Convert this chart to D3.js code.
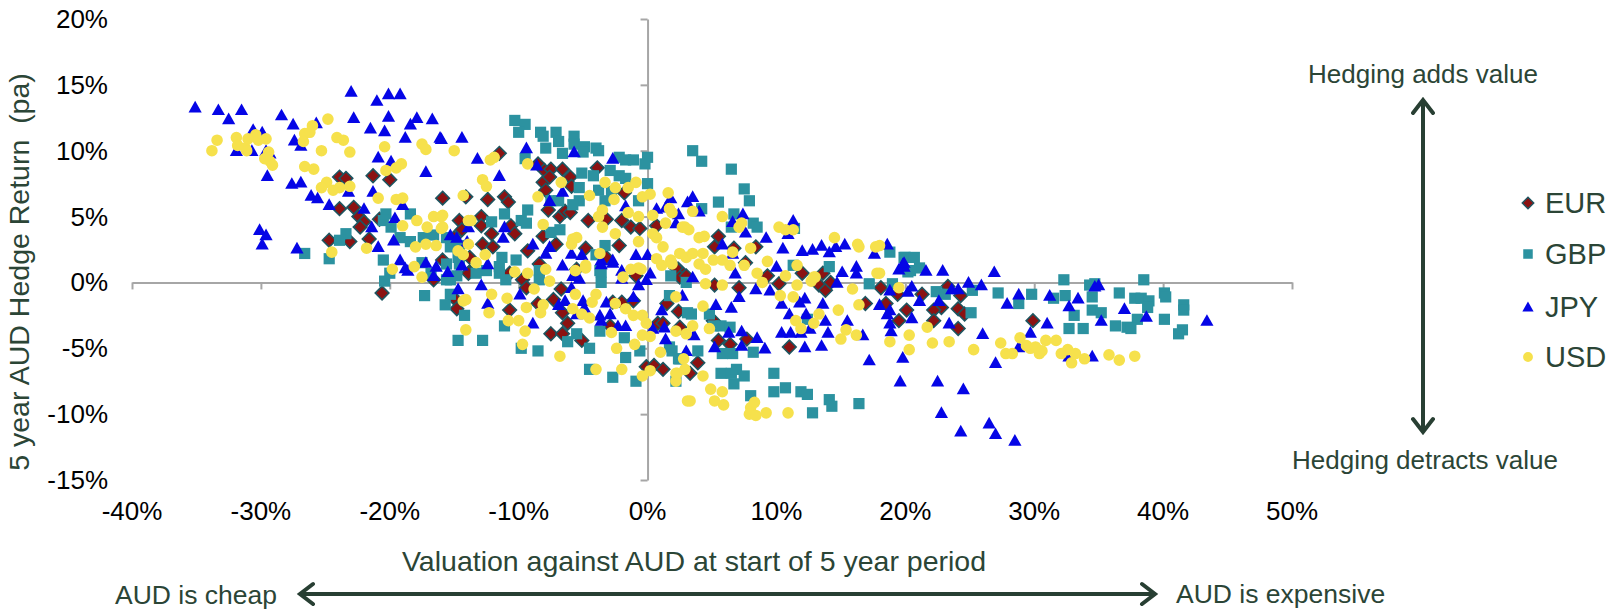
<!DOCTYPE html>
<html><head><meta charset="utf-8">
<script src="https://cdn.jsdelivr.net/npm/d3@7/dist/d3.min.js"></script>
<style>
html,body{margin:0;padding:0;background:#fff;}
svg{display:block;font-family:"Liberation Sans",Arial,sans-serif;}
</style></head>
<body>
<svg id="chart" width="1620" height="613"></svg>
<script>
// ---- data (percent) ----
const seriesNames = ["EUR","GBP","JPY","USD"];
const xTicks = [-40,-30,-20,-10,0,10,20,30,40,50];
const yTicks = [-15,-10,-5,0,5,10,15,20];

const eur = [[-23.9,8.0],[-23.4,7.9],[-21.3,8.1],[-20.0,7.8],[-15.9,6.4],[-23.9,5.6],[-22.8,5.7],[-22.4,5.0],[-22.0,4.6],[-22.3,4.2],[-24.7,3.2],[-23.1,3.1],[-21.6,3.3],[-20.8,4.8],[-14.6,4.7],[-14.4,4.0],[-13.8,0.8],[-15.9,1.7],[-20.6,-0.8],[-16.6,0.2],[-15.0,-1.2],[-14.8,-2.0],[-13.9,0.7],[-11.5,9.8],[-8.5,9.0],[-8.0,8.5],[-7.5,8.6],[-6.6,8.6],[-6.0,8.0],[-8.1,7.6],[-7.6,8.0],[-7.9,7.0],[-5.9,7.3],[-3.9,8.7],[-1.8,6.8],[-14.1,6.5],[-12.4,6.3],[-11.1,6.5],[-10.8,6.1],[-7.7,5.5],[-6.8,5.0],[-6.4,5.4],[-6.0,5.3],[-4.6,4.7],[-3.2,4.8],[-2.0,4.7],[-1.3,4.2],[-0.6,4.1],[0.7,4.3],[-12.9,5.0],[-12.9,4.3],[-12.1,3.7],[-12.8,2.9],[-12.0,2.7],[-10.6,4.3],[-10.3,3.7],[-9.3,2.4],[-8.1,3.5],[-7.1,2.9],[-4.8,2.6],[-2.2,2.8],[-3.2,1.9],[2.4,1.0],[2.5,0.4],[-15.0,3.4],[-13.8,1.9],[-10.7,0.7],[-8.4,1.4],[-10.7,-2.1],[-9.7,0.2],[-9.4,-0.4],[-8.5,-1.6],[-7.3,-1.3],[-6.7,-0.5],[-6.6,-2.3],[-6.2,-3.1],[-7.5,-3.9],[-6.6,-3.9],[-5.1,-4.4],[-5.5,1.0],[-2.9,-3.3],[-2.7,-1.5],[-2.0,-1.5],[-1.1,-1.4],[0.8,-3.1],[1.5,-1.6],[2.4,-2.2],[-0.1,-6.4],[0.5,-6.3],[1.2,-6.6],[2.2,1.1],[-0.9,0.5],[3.0,0.5],[5.5,3.5],[5.2,2.7],[6.7,2.6],[8.4,2.7],[7.6,1.5],[9.3,0.5],[12.0,0.7],[13.6,0.7],[5.2,-0.2],[7.1,-0.4],[10.2,-0.1],[13.3,-0.2],[13.8,-0.6],[14.2,0.0],[16.9,-1.6],[18.1,-0.4],[18.5,-1.6],[19.4,-0.9],[19.5,-2.9],[20.1,-2.1],[1.2,-3.1],[2.5,-3.4],[3.9,-6.1],[3.3,-6.9],[5.5,-4.4],[6.4,-4.7],[7.7,-4.3],[11.0,-4.9],[5.1,-2.9],[21.3,-0.9],[23.3,-0.3],[24.3,-1.0],[22.8,-1.9],[24.1,-2.0],[22.2,-2.1],[22.2,-2.9],[24.1,-3.5],[24.6,-2.4],[29.9,-2.9]];

const gbp = [[-10.3,12.3],[-9.5,12.0],[-10.0,11.4],[-8.3,11.4],[-8.1,11.1],[-7.1,11.4],[-6.9,10.7],[-7.9,10.2],[-6.6,9.8],[-5.7,11.1],[-5.7,10.5],[-4.9,10.3],[-5.0,9.9],[-4.0,10.2],[-3.8,10.0],[-2.2,9.5],[-1.7,9.3],[-1.1,9.3],[0.0,9.5],[-0.2,9.0],[-9.5,9.4],[-5.1,8.3],[-4.2,8.1],[-2.9,8.5],[-2.2,8.1],[-1.7,7.9],[0.0,7.5],[-0.7,6.2],[-5.3,7.2],[-3.8,7.0],[-2.8,6.9],[-3.3,6.2],[-5.3,6.2],[-5.8,5.9],[-6.9,6.2],[-7.5,6.2],[-9.3,5.5],[-9.8,4.7],[-9.4,4.5],[-11.1,5.2],[-12.1,4.6],[-7.5,3.8],[-6.8,4.0],[-3.3,2.8],[-4.0,2.1],[-3.7,0.9],[-10.2,1.7],[-11.3,1.9],[-11.5,1.2],[-12.5,0.9],[-13.3,0.7],[-15.3,2.7],[-14.7,1.9],[-15.6,1.4],[1.8,0.5],[-18.4,5.2],[-20.3,5.2],[-20.5,4.7],[-19.9,4.2],[-19.2,3.4],[-18.4,3.1],[-17.4,3.4],[-16.6,3.6],[-15.6,3.4],[-14.6,2.8],[-14.6,1.4],[-14.8,0.5],[-16.8,0.7],[-17.5,1.5],[-20.5,1.7],[-20.0,0.7],[-23.4,3.7],[-23.9,3.2],[-24.7,1.8],[-26.6,2.2],[-20.4,0.1],[-17.3,-1.0],[-15.7,-1.7],[-14.2,-2.5],[-14.7,-4.4],[-15.3,0.2],[-12.8,-4.4],[-11.1,-3.3],[-9.8,-5.0],[-8.5,-5.2],[-11.5,0.7],[-11.0,0.2],[-8.4,0.9],[-8.4,0.2],[-3.6,0.8],[-3.6,0.0],[-3.7,-3.7],[-5.5,-3.9],[-6.2,-4.5],[-4.5,-5.0],[-4.5,-6.6],[-2.7,-7.2],[-1.8,-4.2],[-1.7,-5.7],[-0.9,-7.5],[-0.6,-5.2],[1.9,-5.2],[2.2,-7.5],[2.5,-5.8],[3.1,-2.3],[3.0,0.0],[1.7,-1.0],[-15.3,-0.9],[-15.6,0.2],[3.5,10.0],[4.2,9.2],[6.5,8.6],[7.5,7.1],[5.5,6.1],[7.9,6.2],[4.2,5.6],[6.7,5.2],[8.2,4.5],[8.5,4.2],[6.5,4.2],[11.4,4.1],[14.1,1.2],[18.8,2.3],[19.9,1.9],[11.3,1.3],[17.2,-0.1],[19.0,-0.1],[20.2,0.8],[3.4,-2.4],[4.8,-2.4],[5.1,-3.3],[5.7,-3.3],[6.4,-3.4],[12.4,-2.8],[1.7,-4.9],[2.4,-5.8],[3.9,-5.2],[5.8,-5.4],[6.6,-5.4],[8.2,-5.3],[5.7,-6.9],[6.5,-6.9],[6.9,-6.6],[7.5,-7.1],[6.7,-7.7],[9.8,-6.9],[9.8,-8.3],[10.7,-8.0],[8.0,-8.6],[11.9,-8.3],[12.4,-8.5],[14.1,-8.9],[14.3,-9.4],[12.8,-9.9],[16.4,-9.2],[20.0,1.9],[20.7,1.9],[21.1,1.1],[20.4,0.9],[22.4,-0.7],[23.1,-0.9],[25.2,-0.6],[27.2,-0.8],[29.8,-0.9],[32.3,0.2],[31.5,-1.2],[32.4,-1.0],[34.3,-0.2],[34.7,-0.1],[34.5,-1.1],[36.6,-0.8],[28.8,-1.6],[25.1,-2.3],[33.1,-2.5],[32.7,-3.5],[33.8,-3.5],[34.5,-2.1],[35.2,-2.3],[36.3,-3.3],[37.2,-3.4],[38.5,0.2],[37.8,-1.2],[38.3,-1.2],[38.9,-1.4],[38.8,-1.9],[40.1,-0.8],[40.2,-1.1],[41.6,-1.7],[41.6,-2.1],[38.0,-2.8],[40.1,-2.8],[37.5,-3.5],[41.5,-3.6],[41.2,-3.9]];

const jpy = [[-35.1,13.3],[-33.3,13.1],[-32.5,12.4],[-31.5,13.1],[-30.6,11.6],[-29.9,11.4],[-31.9,10.0],[-30.7,10.0],[-29.6,10.0],[-29.3,9.8],[-29.5,8.1],[-28.4,12.7],[-27.5,12.0],[-27.4,10.8],[-26.9,10.4],[-25.7,12.1],[-23.0,14.5],[-21.0,13.8],[-20.1,14.3],[-19.2,14.3],[-22.8,12.5],[-21.5,11.7],[-20.4,11.5],[-20.1,12.6],[-18.8,11.0],[-18.4,12.0],[-17.9,12.5],[-16.7,12.4],[-16.1,11.0],[-14.4,11.0],[-17.2,8.4],[-20.9,9.5],[-19.9,9.2],[-27.6,7.5],[-26.9,7.6],[-26.1,6.6],[-25.6,6.4],[-24.7,5.9],[-23.2,6.9],[-21.3,6.9],[-22.0,5.6],[-21.4,4.2],[-19.6,4.9],[-19.0,5.9],[-30.1,4.0],[-29.6,3.6],[-29.9,2.9],[-27.2,2.6],[-20.9,2.7],[-19.7,3.2],[-19.2,1.7],[-15.3,3.6],[-14.8,3.4],[-14.0,3.1],[-17.2,1.5],[-16.4,1.2],[-15.5,0.8],[-18.6,0.9],[-18.8,1.1],[-16.6,0.5],[-16.0,10.9],[-13.2,9.4],[-11.5,8.1],[-9.4,10.2],[-8.6,8.9],[-5.7,9.9],[-2.7,9.4],[-7.6,6.2],[-6.6,6.9],[-1.7,5.8],[0.7,5.6],[1.8,6.4],[2.4,5.2],[3.1,6.1],[-11.1,4.2],[-11.2,3.4],[-13.9,4.2],[-8.9,2.9],[-7.9,2.2],[-7.6,2.7],[-5.9,2.2],[-5.1,2.1],[-2.7,1.7],[-0.9,2.1],[0.0,2.1],[-12.4,1.4],[-14.4,1.3],[-6.6,1.3],[-3.6,1.7],[-2.0,0.9],[0.2,0.7],[-14.7,-0.5],[-12.9,-0.2],[-12.4,-1.6],[-9.9,-0.9],[-8.9,-3.1],[-5.8,0.5],[-5.3,0.3],[-5.9,-0.4],[-6.4,-1.4],[-6.9,-1.7],[-5.0,-1.4],[-4.9,-1.9],[-5.5,-2.4],[-3.7,-2.5],[-3.6,-2.9],[-3.2,-1.5],[-2.9,-2.4],[-2.3,-3.3],[-1.7,-3.3],[-2.0,0.3],[-1.1,-1.1],[-0.7,-0.2],[-0.1,0.2],[1.1,-2.1],[1.3,-3.4],[1.4,-4.3],[2.7,-1.0],[3.0,-5.2],[0.4,-3.5],[-3.6,1.4],[-2.7,1.5],[3.5,6.5],[1.4,5.7],[4.0,5.4],[2.2,4.5],[7.4,5.2],[7.6,3.8],[6.6,4.6],[9.2,3.4],[10.5,2.6],[11.3,4.7],[10.9,3.7],[12.0,2.4],[12.8,2.5],[13.5,2.8],[14.1,2.3],[14.6,2.7],[15.3,2.9],[17.6,2.2],[18.6,2.9],[5.8,2.9],[6.6,2.2],[10.0,1.2],[15.1,0.8],[16.2,1.2],[16.2,0.7],[19.8,1.4],[19.5,1.0],[3.5,0.4],[6.8,0.7],[8.4,-0.5],[7.1,-1.1],[9.5,-0.6],[5.3,-1.7],[6.5,-1.9],[10.4,-1.6],[11.0,-2.4],[11.8,-1.5],[12.2,-1.2],[13.6,-1.6],[12.3,-2.4],[13.8,-2.9],[15.5,-2.9],[14.7,0.0],[18.0,-1.7],[18.8,-2.1],[18.8,-3.1],[18.9,-3.7],[19.9,1.2],[18.8,-0.6],[20.2,-0.7],[3.6,-4.0],[6.3,-3.8],[7.3,-3.7],[7.3,-4.8],[5.2,-4.9],[8.5,-4.2],[9.1,-5.0],[10.4,-3.8],[11.1,-3.8],[11.9,-3.8],[12.6,-3.5],[14.0,-3.8],[12.2,-4.9],[13.5,-4.8],[16.7,-4.0],[17.2,-5.9],[19.8,-5.7],[19.6,-7.5],[19.9,1.5],[21.6,0.9],[22.9,0.9],[26.9,0.8],[20.5,-0.3],[21.1,-1.4],[22.6,-1.4],[23.6,-0.5],[24.1,-0.5],[24.9,0.0],[25.9,-0.2],[27.9,-1.6],[28.8,-0.9],[31.2,-1.0],[32.7,-1.8],[33.4,-1.2],[34.7,-0.3],[37.0,-2.0],[18.6,-2.4],[20.5,-2.7],[23.4,-3.1],[26.0,-3.9],[29.7,-3.8],[31.0,-3.1],[35.2,-2.9],[27.0,-6.1],[28.8,-4.9],[34.5,-5.6],[32.7,-5.6],[22.5,-7.5],[24.5,-8.1],[22.8,-9.9],[24.3,-11.3],[26.5,-10.7],[27.0,-11.5],[28.5,-12.0],[35.0,-0.2],[38.7,-2.6],[43.4,-2.9]];

const usd = [[-33.8,10.0],[-33.4,10.8],[-31.9,11.0],[-31.8,10.4],[-31.2,10.2],[-31.0,10.9],[-30.4,11.2],[-30.2,10.8],[-29.6,10.9],[-31.1,10.0],[-29.4,9.9],[-29.7,9.4],[-29.3,9.2],[-29.1,8.9],[-26.6,11.3],[-26.0,11.9],[-26.7,10.7],[-26.2,11.4],[-24.8,12.4],[-25.3,10.0],[-24.1,11.0],[-23.6,10.8],[-23.1,9.9],[-26.6,8.8],[-25.9,8.6],[-24.9,7.6],[-25.3,7.2],[-24.4,7.0],[-23.9,7.2],[-23.1,7.3],[-20.4,10.3],[-20.3,8.5],[-19.5,8.7],[-19.1,9.0],[-20.9,6.4],[-19.5,6.3],[-19.0,6.4],[-17.5,10.5],[-17.2,10.1],[-15.0,10.0],[-17.9,4.7],[-16.6,5.0],[-16.0,5.0],[-17.1,4.2],[-16.0,4.1],[-19.0,4.3],[-21.8,2.6],[-24.5,2.3],[-19.8,1.0],[-18.0,2.7],[-17.2,2.9],[-16.4,2.8],[-18.1,1.2],[-14.7,2.4],[-14.3,2.1],[-14.3,6.6],[-13.9,4.7],[-17.5,0.4],[-14.3,-1.4],[-14.1,-3.6],[-12.2,9.3],[-11.9,9.5],[-12.8,7.8],[-12.5,7.3],[-9.3,9.0],[-8.5,6.5],[-6.7,7.6],[-3.3,7.6],[-2.5,7.2],[-2.6,6.3],[-1.5,7.2],[-0.9,7.6],[-0.4,6.5],[0.2,6.7],[1.6,6.8],[-4.5,6.6],[-3.5,5.5],[-3.8,5.0],[-1.5,5.3],[-0.7,5.0],[0.4,5.1],[1.7,5.6],[1.9,5.3],[1.4,4.5],[2.9,4.2],[-15.9,5.1],[-15.9,4.2],[-13.7,4.7],[-8.1,4.4],[-3.5,4.2],[-2.5,3.7],[-0.7,3.1],[0.4,3.7],[0.7,3.4],[1.2,2.7],[-5.8,3.3],[-5.5,3.4],[-5.9,2.9],[-13.9,2.9],[-12.6,2.1],[-13.3,1.5],[-3.7,2.2],[-4.8,1.3],[0.7,1.8],[1.8,1.7],[2.5,2.2],[3.0,1.9],[-1.3,1.0],[-0.5,1.0],[-10.3,0.8],[-9.3,0.7],[-7.9,1.0],[-7.6,0.1],[-8.8,-0.5],[-12.1,-0.9],[-14.1,-1.3],[-10.9,-1.2],[-12.3,-2.3],[-9.4,-1.9],[-8.1,-1.7],[-8.3,-2.3],[-10.8,-2.9],[-10.0,-2.9],[-9.5,-3.7],[-9.7,-4.7],[-6.8,-5.6],[-5.6,-0.9],[-5.8,-2.0],[-5.1,-2.4],[-4.5,-2.7],[-4.0,-0.9],[-4.3,-1.5],[-2.5,-1.6],[-1.7,-2.0],[-1.1,-2.5],[-0.4,-2.5],[-0.1,-3.1],[-0.4,-4.0],[0.2,-4.1],[-2.8,-3.8],[-1.0,-4.7],[-2.4,-5.0],[-2.0,-6.6],[-4.0,-6.6],[-0.4,-7.1],[0.2,-6.7],[1.0,-5.3],[2.2,-3.7],[2.8,-5.8],[2.3,-6.9],[2.9,-6.6],[3.1,-9.0],[2.2,-7.5],[1.1,1.3],[1.9,1.4],[-5.6,0.9],[-4.8,1.1],[-1.9,0.4],[-0.7,1.1],[3.5,5.4],[5.8,5.0],[7.3,4.5],[7.1,4.2],[2.7,4.2],[3.2,4.0],[10.2,4.2],[10.7,4.0],[11.3,4.0],[14.5,3.4],[16.3,2.9],[16.4,2.7],[17.7,2.7],[4.0,3.4],[4.4,3.5],[6.6,2.3],[8.0,2.6],[3.5,2.2],[4.3,2.2],[5.1,1.7],[5.8,1.7],[6.4,1.3],[7.5,1.3],[4.0,1.4],[4.5,1.0],[9.3,1.6],[11.6,1.3],[8.5,0.7],[10.7,0.5],[12.9,0.4],[17.8,0.7],[4.5,-0.1],[5.8,-0.2],[8.9,0.0],[11.6,-0.2],[12.7,0.1],[13.0,0.4],[15.9,-0.5],[19.5,-0.4],[2.2,-1.1],[4.3,-1.8],[10.3,-1.0],[11.3,-1.1],[14.8,-2.1],[16.4,-1.7],[13.3,-2.4],[11.5,-2.9],[12.9,-3.1],[11.9,-3.5],[15.4,-3.6],[16.2,-4.0],[15.0,-4.3],[18.8,-4.5],[20.3,-4.0],[20.3,-5.1],[3.0,-3.9],[3.5,-3.3],[4.8,-3.5],[2.2,-6.9],[4.3,-7.1],[4.9,-8.1],[5.8,-8.3],[5.9,-9.3],[5.2,-9.0],[3.3,-9.0],[8.0,-9.5],[8.3,-9.1],[7.9,-10.0],[8.4,-10.1],[9.2,-9.9],[10.9,-9.9],[18.0,2.8],[18.0,0.7],[21.7,-3.4],[22.1,-4.6],[23.4,-4.5],[25.3,-5.1],[27.4,-4.6],[27.8,-5.4],[28.3,-5.4],[28.9,-4.2],[29.4,-4.8],[29.7,-5.0],[30.1,-4.9],[30.4,-5.4],[30.6,-5.2],[30.9,-4.4],[31.7,-4.4],[32.1,-5.4],[32.6,-5.1],[32.9,-6.1],[33.2,-5.4],[33.9,-5.8],[35.8,-5.5],[36.6,-5.9],[37.8,-5.6]];

// ---- drawing ----
const svg = d3.select("#chart");
const x = d3.scaleLinear().domain([-40,50]).range([132,1292]);
const y = d3.scaleLinear().domain([-15,20]).range([480,19]);
const textCol = "#2b4536";
const axisCol = "#a6a6a6";

const gx = svg.append("g").attr("transform",`translate(0,${y(0)})`)
  .call(d3.axisBottom(x).tickValues(xTicks).tickSize(7).tickFormat("").tickSizeOuter(0));
gx.selectAll("path,line").attr("stroke",axisCol).attr("stroke-width",2);
const gy = svg.append("g").attr("transform",`translate(${x(0)},0)`)
  .call(d3.axisLeft(y).tickValues(yTicks).tickSize(7).tickFormat("").tickSizeOuter(0));
gy.selectAll("path,line").attr("stroke",axisCol).attr("stroke-width",2);

svg.append("g").selectAll("text").data(xTicks).join("text")
  .attr("x",d=>x(d)).attr("y",520).attr("text-anchor","middle")
  .attr("font-size",26).attr("fill","#000").text(d=>d+"%");
svg.append("g").selectAll("text").data(yTicks).join("text")
  .attr("x",108).attr("y",d=>y(d)+9).attr("text-anchor","end")
  .attr("font-size",26).attr("fill","#000").text(d=>d+"%");

const shapes = {
  EUR: "M0,-6.8L6.8,0L0,6.8L-6.8,0Z",
  GBP: "M-5.6,-5.6H5.6V5.6H-5.6Z",
  JPY: "M0,-6.5L6.6,5.2L-6.6,5.2Z",
  USD: d3.symbol(d3.symbolCircle, Math.PI*5.8*5.8)()
};
const fills = {EUR:"#8b1212",GBP:"#2c92a0",JPY:"#0505e6",USD:"#f6e14c"};
const strokes = {EUR:"#1c5560",GBP:"none",JPY:"none",USD:"none"};
const data = {EUR:eur,GBP:gbp,JPY:jpy,USD:usd};

seriesNames.forEach(name=>{
  svg.append("g").selectAll("path").data(data[name]).join("path")
    .attr("d",shapes[name])
    .attr("transform",d=>`translate(${x(d[0])},${y(d[1])})`)
    .attr("fill",fills[name])
    .attr("stroke",strokes[name]).attr("stroke-width",1.6);
});

const legY = [203,254,307,357];
seriesNames.forEach((name,i)=>{
  svg.append("path").attr("d",shapes[name])
    .attr("transform",`translate(1528,${legY[i]}) scale(0.85)`)
    .attr("fill",fills[name]).attr("stroke",strokes[name]).attr("stroke-width",1.6);
  svg.append("text").attr("x",1545).attr("y",legY[i]+10)
    .attr("font-size",29).attr("fill",textCol).text(name);
});

svg.append("text").attr("x",694).attr("y",571).attr("text-anchor","middle")
  .attr("font-size",28.5).attr("fill",textCol)
  .text("Valuation against AUD at start of 5 year period");
svg.append("text").attr("transform","translate(29,272) rotate(-90)")
  .attr("text-anchor","middle").attr("font-size",28.5).attr("fill",textCol)
  .attr("xml:space","preserve").style("white-space","pre")
  .text("5 year AUD Hedge Return  (pa)");

const arrowCol = "#283f33";
function chevron(px,py,dx,dy){
  const L=13, W=10;
  const bx=px-dx*L, by=py-dy*L, nx=-dy, ny=dx;
  return `M${bx+nx*W},${by+ny*W}L${px},${py}L${bx-nx*W},${by-ny*W}`;
}
svg.append("line").attr("x1",1423).attr("x2",1423).attr("y1",102).attr("y2",430)
  .attr("stroke",arrowCol).attr("stroke-width",4);
svg.append("path").attr("d",chevron(1423,100,0,-1)+chevron(1423,432,0,1))
  .attr("fill","none").attr("stroke",arrowCol).attr("stroke-width",4).attr("stroke-linecap","round");
svg.append("line").attr("x1",302).attr("x2",1153).attr("y1",594).attr("y2",594)
  .attr("stroke",arrowCol).attr("stroke-width",4);
svg.append("path").attr("d",chevron(300,594,-1,0)+chevron(1155,594,1,0))
  .attr("fill","none").attr("stroke",arrowCol).attr("stroke-width",4).attr("stroke-linecap","round");

svg.append("text").attr("x",1423).attr("y",83).attr("text-anchor","middle")
  .attr("font-size",26).attr("fill",textCol).text("Hedging adds value");
svg.append("text").attr("x",1425).attr("y",469).attr("text-anchor","middle")
  .attr("font-size",26).attr("fill",textCol).text("Hedging detracts value");
svg.append("text").attr("x",277).attr("y",604).attr("text-anchor","end")
  .attr("font-size",26.5).attr("fill",textCol).text("AUD is cheap");
svg.append("text").attr("x",1176).attr("y",603).attr("text-anchor","start")
  .attr("font-size",26.5).attr("fill",textCol).text("AUD is expensive");
</script>
</body></html>
